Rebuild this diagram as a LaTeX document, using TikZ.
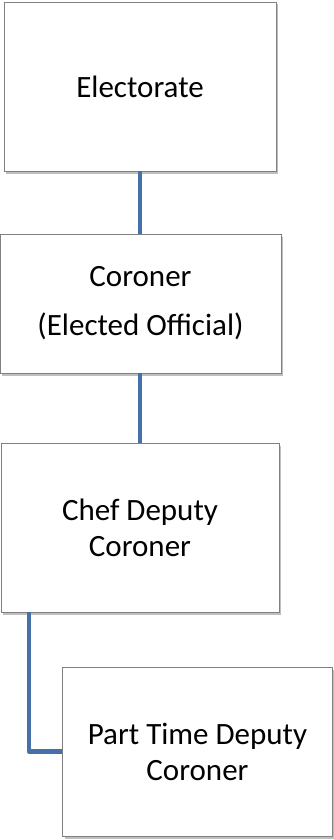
\documentclass[tikz,border=0pt]{standalone}
\usepackage{fontspec}
\setmainfont{Carlito}
\usetikzlibrary{shadows}
\definecolor{boxborder}{HTML}{808080}
\definecolor{linkblue}{HTML}{4670A8}
\tikzset{
  orgbox/.style={draw=boxborder, line width=0.9pt, fill=white, rectangle, align=center,
    font=\fontsize{31}{36}\selectfont, inner sep=0pt,
    drop shadow={shadow xshift=2pt, shadow yshift=-2.5pt, opacity=0.25, fill=black}},
  link/.style={draw=linkblue, line width=4.5pt}
}
\begin{document}
\begin{tikzpicture}[x=1pt,y=-1pt]
\useasboundingbox (0,0) rectangle (334,840);
\node[orgbox, minimum width=272pt, minimum height=169pt] (elect) at (140,86.5) {Electorate};
\node[orgbox, minimum width=281pt, minimum height=139pt] (coron) at (140.5,303.5) {Coroner\\[13pt](Elected Official)};
\node[orgbox, minimum width=278pt, minimum height=169pt] (chef) at (140,527.5) {Chef Deputy\\Coroner};
\node[orgbox, minimum width=270pt, minimum height=169pt] (part) at (197.5,751.5) {Part Time Deputy\\Coroner};
\coordinate (c1) at (29,612);
\coordinate (c2) at (29,751.5);
\draw[link] (elect.south -| 140,0) -- (coron.north -| 140,0);
\draw[link] (coron.south -| 140,0) -- (chef.north -| 140,0);
\draw[link, line join=round] (c1) -- (c2) -- (part.west);
\end{tikzpicture}
\end{document}
